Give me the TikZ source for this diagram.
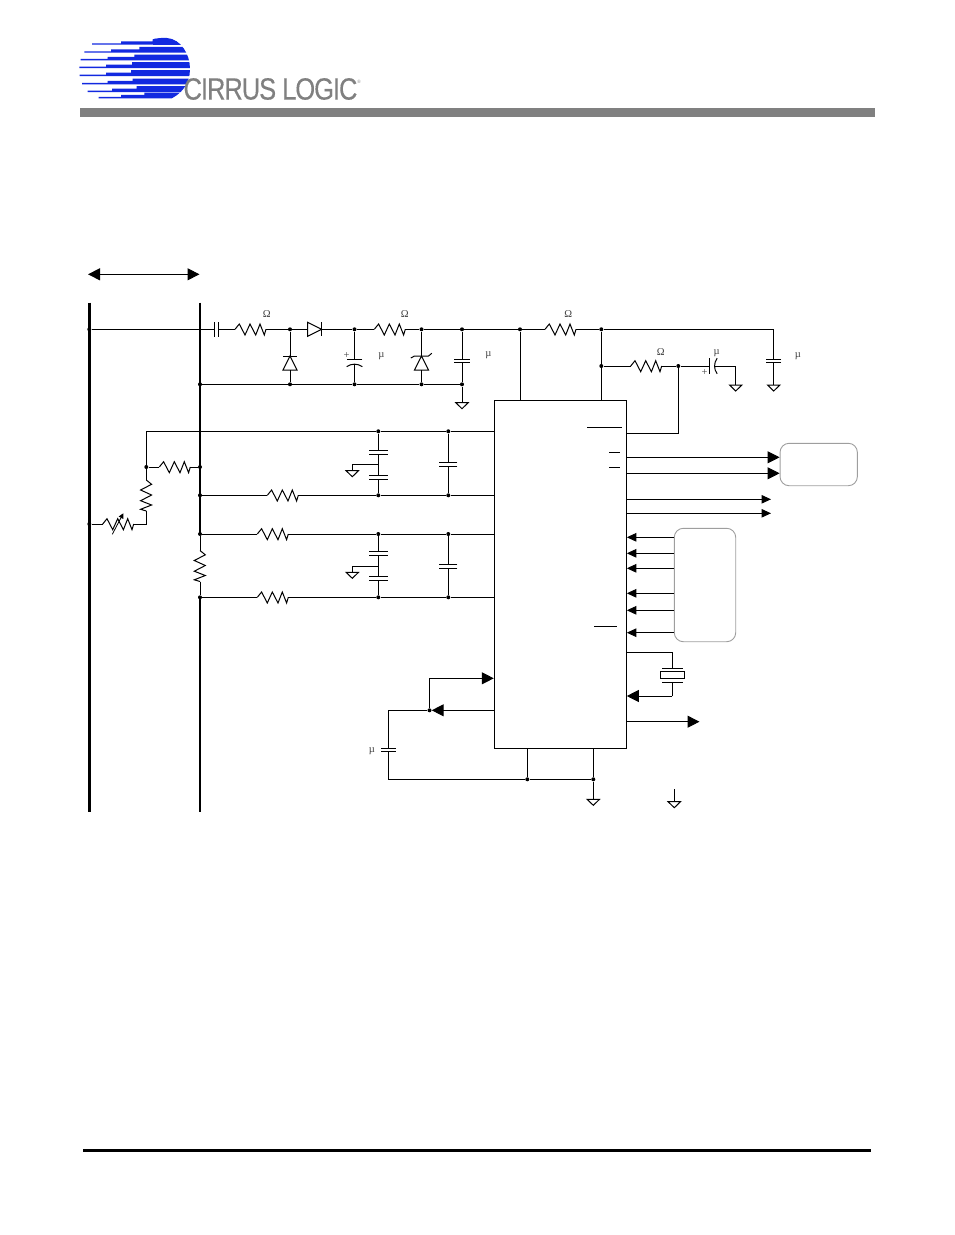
\documentclass[tikz,border=0pt]{standalone}
\usepackage{fontspec}
\setmainfont{Liberation Serif}
\newfontfamily\logofont[FakeBold=0.3,LetterSpace=-4]{Liberation Sans}
\usetikzlibrary{calc}
\usetikzlibrary{arrows.meta}
\definecolor{logoblue}{rgb}{0.07,0.16,0.88}
\definecolor{logogray}{rgb}{0.5,0.5,0.5}
\definecolor{boxgray}{rgb}{0.62,0.62,0.62}
\tikzset{
  wire/.style={line width=1pt},
  rail/.style={line width=2.8pt},
  dot/.style={circle,fill=black,inner sep=0pt,minimum size=4pt},
  val/.style={inner sep=0pt,font=\fontsize{10.5}{11}\selectfont,text=black!75},
  softbox/.style={draw=boxgray,line width=0.9pt,rounded corners=9pt,inner sep=0pt},
  bigtip/.style={wire,-{Triangle[length=12pt,width=12pt]}},
  smalltip/.style={wire,-{Triangle[length=9.5pt,width=8.5pt]}},
  pics/res/.style={code={
    \draw[wire] (0,0) -- (4.3,-5.3) -- (10,5.7) -- (15,-5.3) -- (20.7,5.7) -- (25,-5.3) -- (29.3,5.7) -- (31,0);
    \coordinate (-a) at (0,0);
    \coordinate (-b) at (31,0);
  }},
  pics/cap/.style={code={
    \draw[wire] (-1.9,-#1) -- (-1.9,#1);
    \draw[wire] (1.9,-#1) -- (1.9,#1);
    \coordinate (-a) at (-1.9,0);
    \coordinate (-b) at (1.9,0);
  }},
  pics/polar/.style={code={
    \draw[wire] (0,-7.8) -- (0,7.8);
    \draw[wire] (7.4,-7.8) .. controls (4,-3) and (4,3) .. (7.4,7.8);
    \coordinate (-a) at (0,0);
    \coordinate (-b) at (4.8,0);
  }},
  pics/diode/.style={code={
    \draw[wire] (0,-7) -- (14,0) -- (0,7) -- cycle;
    \draw[wire] (14,-7) -- (14,7);
    \coordinate (-a) at (0,0);
    \coordinate (-b) at (14,0);
  }},
  pics/tvs/.style={code={
    \draw[wire] (0,-7) -- (14,0) -- (0,7) -- cycle;
    \draw[wire] (12,-10.7) -- (14,-7) -- (14,7) -- (16.7,10.3);
    \coordinate (-a) at (0,0);
    \coordinate (-b) at (14,0);
  }},
  pics/gnd/.style={code={
    \draw[wire] (-6.2,0) -- (6.2,0) -- (0,6) -- cycle;
    \coordinate (-t) at (0,0);
  }}
}
\begin{document}
\begin{tikzpicture}[line cap=butt,line join=miter,x=1pt,y=-1pt]
\useasboundingbox (0,0) rectangle (954,1235);
\begin{scope}
\clip (70,30) -- (150,30) -- (150,40) .. controls (157,38) and (162,37.6) .. (167,38) .. controls (181,39.5) and (190,54) .. (190,69) .. controls (190,84) and (181,95) .. (168,100) -- (70,100) -- cycle;
\foreach \ybar/\xa/\xb/\xc in {44.7/92/121/152.7,52.7/84.3/111/139.3,60.3/80.7/107.7/134.3,68/79.3/106/132,76/79.7/106/131,84.3/82/107.7/132.7,92/87.7/112/136.7,98.3/98.7/121/144.3}{
  \fill[logoblue] (\xa,\ybar) -- (\xa,\ybar-1.4) -- (\xb,\ybar-1.4) -- (\xb,\ybar-3.4) -- (\xc,\ybar-3.4) -- (\xc,\ybar-5.8) -- (195,\ybar-5.8) -- (195,\ybar) -- cycle;
}
\fill[logoblue] (152.7,36) rectangle (195,44.7);
\end{scope}
\node[inner sep=0pt,xscale=0.83,text=logogray,font=\logofont\fontsize{30.7}{31}\selectfont] (logotext) at (270.5,89) {CIRRUS LOGIC};
\node[inner sep=0pt,text=logogray,font=\fontsize{5}{5}\selectfont] (logoreg) at (359,81.5) {®};
\fill[logogray] (80,108) rectangle (875,117);
\draw[line width=3pt] (83,1150.5) -- (871,1150.5);

\coordinate (spanl) at (88,274.3);
\coordinate (spanr) at (199.5,274.3);
\draw[wire,{Triangle[length=12pt,width=12pt]}-{Triangle[length=12pt,width=12pt]}] (spanl) -- (spanr);

\node[draw,wire,minimum width=132pt,minimum height=348.3pt,inner sep=0pt] (ic) at (560.3,574.2) {};
\node[softbox,minimum width=77.3pt,minimum height=42.4pt] (dacbox) at (818.7,464.5) {};
\node[softbox,minimum width=61.4pt,minimum height=113.4pt] (ctlbox) at (705,585) {};

\coordinate (railatop) at (89.3,302.7);
\coordinate (railabot) at (89.3,811.7);
\coordinate (railbtop) at (200,302.7);
\coordinate (railbbot) at (200,811.7);
\draw[rail] (railatop) -- (railabot);

\foreach \name/\x/\y in {ja/89.3/329.3,jb/290/329.3,jc/354.5/329.3,jd/421.5/329.3,je/462/329.3,jf/520/329.3,jg/601.3/329.3,jh/601.3/366,ji/678.3/366,
  ka/200/384.3,kb/290/384.3,kc/354.5/384.3,kd/421.5/384.3,ke/462/384.3,
  la/378.3/431.3,lb/448.3/431.3,ma/146.3/467,mb/200/467,na/200/495.3,nb/378.3/495.3,nc/448.3/495.3,pa/89.3/524,
  qa/200/534,qb/378.3/534,qc/448.3/534,sa/200/597.3,sb/378.3/597.3,sc/448.3/597.3,
  ua/429.5/710.3,va/527.3/779.3,vb/593.3/779.3}{
  \node[dot] (\name) at (\x,\y) {};
}
\draw[rail] (railbtop) -- (qa.center);
\draw[rail] (sa.center) -- (railbbot);

\pic (cin) at (216.5,329.3) {cap=7.3};
\pic (rin) at (235,329.3) {res};
\pic (dser) at (307.7,329.3) {diode};
\pic (rdrop) at (374.3,329.3) {res};
\pic (rsup) at (545,329.3) {res};
\pic (dshunt) [rotate=90] at (290,370) {diode};
\pic (cbulk) [rotate=-90] at (354.5,359.3) {polar};
\pic (dtvs) [rotate=90] at (421.5,370) {tvs};
\pic (cdec) [rotate=-90] at (462,361) {cap=7.6};
\pic (gdec) at (462,402.7) {gnd};
\draw[wire] (ja) -- (cin-a);
\draw[wire] (cin-b) -- (rin-a);
\draw[wire] (rin-b) -- (jb) -- (dser-a);
\draw[wire] (dser-b) -- (jc) -- (rdrop-a);
\draw[wire] (rdrop-b) -- (jd) -- (je) -- (jf) -- (rsup-a);
\draw[wire] (rsup-b) -- (jg);
\draw[wire] (jb) -- (dshunt-b);
\draw[wire] (dshunt-a) -- (kb);
\draw[wire] (jc) -- (cbulk-a);
\draw[wire] (cbulk-b) -- (kc);
\draw[wire] (jd) -- (dtvs-b);
\draw[wire] (dtvs-a) -- (kd);
\draw[wire] (je) -- (cdec-a);
\draw[wire] (cdec-b) -- (ke);
\draw[wire] (ka) -- (kb) -- (kc) -- (kd) -- (ke) -- (gdec-t);

\pic (cout) [rotate=-90] at (773.7,361) {cap=7.5};
\pic (gout) at (773.7,385) {gnd};
\pic (rfilt) at (630.7,366) {res};
\pic (cfilt) at (709.7,366) {polar};
\pic (gfilt) at (735.7,385) {gnd};
\draw[wire] (jg) -- (jh) -- (jh |- ic.north);
\draw[wire] (jf) -- (jf |- ic.north);
\draw[wire] (jg) -| (cout-a);
\draw[wire] (cout-b) -- (gout-t);
\draw[wire] (jh) -- (rfilt-a);
\draw[wire] (rfilt-b) -- (ji) -- (cfilt-a);
\draw[wire] (cfilt-b) -| (gfilt-t);
\coordinate (filtpin) at (ic.east |- 0,433.3);
\draw[wire] (ji) |- (filtpin);

\pic (rsns) at (159.3,467) {res};
\pic (rbias) [rotate=-90] at (146.3,480) {res};
\pic (rtrim) at (102.7,524) {res};
\coordinate (trimfoot) at (112.3,534.3);
\coordinate (trimtip) at (123.3,513.3);
\draw[line width=0.8pt,-{Triangle[length=5pt,width=5pt]}] (trimfoot) -- (trimtip);
\draw[wire] (ma |- la) -- (la) -- (lb) -- (lb -| ic.west);
\draw[wire] (ma |- la) -- (ma) -- (rsns-a);
\draw[wire] (rsns-b) -- (mb);
\draw[wire] (ma) -- (rbias-a);
\draw[wire] (rbias-b) |- (rtrim-b);
\draw[wire] (pa) -- (rtrim-a);

\pic (rna) at (267.3,495.3) {res};
\pic (rqa) at (257.3,534) {res};
\pic (rsa) at (257.3,597.3) {res};
\pic (rshunt) [rotate=-90] at (200,550.5) {res};
\draw[wire] (na) -- (rna-a);
\draw[wire] (rna-b) -- (nb) -- (nc) -- (nc -| ic.west);
\draw[wire] (qa) -- (rqa-a);
\draw[wire] (rqa-b) -- (qb) -- (qc) -- (qc -| ic.west);
\draw[wire] (sa) -- (rsa-a);
\draw[wire] (rsa-b) -- (sb) -- (sc) -- (sc -| ic.west);
\draw[wire] (qa) -- (rshunt-a);
\draw[wire] (rshunt-b) -- (sa);

\foreach \tag/\yc/\ym/\yd/\ye/\yg/\ytop/\ybot in {x/452.4/464.3/477.3/464.8/470.7/la/nb,y/553.4/566.3/578.8/566.8/572.3/qb/sb}{
  \pic (cu\tag) [rotate=-90] at (378.3,\yc) {cap=9.2};
  \pic (cd\tag) [rotate=-90] at (378.3,\yd) {cap=9.2};
  \pic (cp\tag) [rotate=-90] at (448.3,\ye) {cap=9};
  \pic (gn\tag) at (352.3,\yg) {gnd};
  \coordinate (md\tag) at (378.3,\ym);
  \draw[wire] (\ytop) -- (cu\tag-a);
  \draw[wire] (cu\tag-b) -- (cd\tag-a);
  \draw[wire] (cd\tag-b) -- (\ybot);
  \draw[wire] (md\tag) -| (gn\tag-t);
}
\draw[wire] (lb) -- (cpx-a);
\draw[wire] (cpx-b) -- (nc);
\draw[wire] (qc) -- (cpy-a);
\draw[wire] (cpy-b) -- (sc);

\draw[bigtip] (ic.east |- 0,457.3) -- (dacbox.west |- 0,457.3);
\draw[bigtip] (ic.east |- 0,473.3) -- (dacbox.west |- 0,473.3);
\coordinate (clka) at (771,499.3);
\coordinate (clkb) at (771,513.3);
\draw[smalltip] (ic.east |- clka) -- (clka);
\draw[smalltip] (ic.east |- clkb) -- (clkb);
\foreach \y in {537.3,553.3,568.3,593.3,610.3,632.7}{
  \draw[smalltip] (ctlbox.west |- 0,\y) -- (ic.east |- 0,\y);
}

\coordinate (xtaltop) at (672.3,652.3);
\coordinate (xtalbot) at (672.3,696);
\node[draw,wire,minimum width=24.4pt,minimum height=7.4pt,inner sep=0pt] (xtal) at (672.5,675) {};
\draw[wire] (662,668.3) -- (682.7,668.3);
\draw[wire] (662,682.3) -- (682.7,682.3);
\draw[wire] (ic.east |- xtaltop) -- (xtaltop) -- (672.3,668.3);
\draw[wire] (672.3,682.3) -- (xtalbot);
\draw[bigtip] (xtalbot) -- (ic.east |- xtalbot);
\coordinate (outend) at (699.5,721.7);
\draw[bigtip] (ic.east |- outend) -- (outend);

\coordinate (fbtop) at (429.5,678.3);
\pic (cfb) [rotate=-90] at (388.3,750) {cap=7.6};
\draw[bigtip] (ua) |- (ic.west |- fbtop);
\draw[bigtip] (ua -| ic.west) -- (ua);
\draw[wire] (ua) -| (cfb-a);
\draw[wire] (cfb-b) |- (va);
\draw[wire] (va) -- (vb);
\draw[wire] (va) -- (va |- ic.south);
\draw[wire] (vb) -- (vb |- ic.south);
\pic (gic) at (593.3,799.3) {gnd};
\draw[wire] (vb) -- (gic-t);
\coordinate (gstub) at (674.3,789.3);
\pic (gfree) at (674.3,801.7) {gnd};
\draw[wire] (gstub) -- (gfree-t);

\draw[wire] (587,427.8) -- (622,427.8);
\draw[wire] (609.3,452.3) -- (620,452.3);
\draw[wire] (609.3,467.3) -- (620,467.3);
\draw[wire] (594,626.3) -- (617,626.3);

\node[val] (ohm1) at (266.7,314.5) {Ω};
\node[val] (ohm2) at (404.7,314.5) {Ω};
\node[val] (ohm3) at (568.3,314.5) {Ω};
\node[val] (ohm4) at (660.7,351.8) {Ω};
\node[val] (plus1) at (346.5,355.5) {+};
\node[val] (plus2) at (704.7,372.3) {+};
\node[val] (mu1) at (381.3,356.5) {µ};
\node[val] (mu2) at (488.3,355.5) {µ};
\node[val] (mu3) at (716.7,353) {µ};
\node[val] (mu4) at (798,356.3) {µ};
\node[val] (mu5) at (372,751.5) {µ};
\end{tikzpicture}
\end{document}
